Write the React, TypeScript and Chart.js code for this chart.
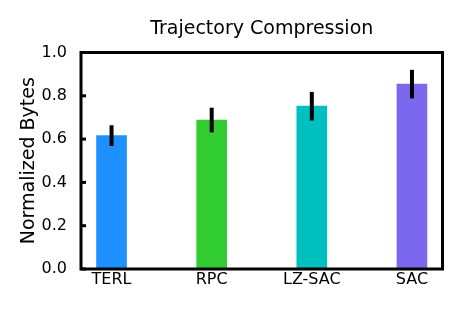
import React, { useEffect, useRef } from "react";
import { Chart, registerables } from "chart.js";

Chart.register(...registerables);

const categories = ["TERL", "RPC", "LZ-SAC", "SAC"];
const values = [0.616, 0.688, 0.752, 0.854];
const errors = [0.048, 0.057, 0.066, 0.066];
const colors = ["#1E90FF", "#32CD32", "#00BFBF", "#7B68EE"];
const yTicks = [0, 0.2, 0.4, 0.6, 0.8, 1.0];

const FONT = "DejaVu Sans";

const decorPlugin = {
  id: "decor",
  afterDatasetsDraw(chart: any) {
    const ctx = chart.ctx;
    const xs = chart.scales.x;
    const ys = chart.scales.y;
    const area = chart.chartArea;
    ctx.save();
    // error bars
    ctx.strokeStyle = "#000";
    ctx.lineWidth = 4;
    values.forEach((v, i) => {
      const x = xs.getPixelForValue(i);
      ctx.beginPath();
      ctx.moveTo(x, ys.getPixelForValue(v - errors[i]));
      ctx.lineTo(x, ys.getPixelForValue(v + errors[i]));
      ctx.stroke();
    });
    // inward y ticks
    ctx.lineWidth = 3;
    yTicks.forEach((t) => {
      const y = ys.getPixelForValue(t);
      ctx.beginPath();
      ctx.moveTo(area.left, y);
      ctx.lineTo(area.left + 5, y);
      ctx.stroke();
    });
    // frame
    ctx.lineWidth = 3;
    ctx.strokeRect(area.left, area.top, area.right - area.left, area.bottom - area.top);
    ctx.restore();
  },
};

export default function App() {
  const ref = useRef<HTMLCanvasElement | null>(null);
  useEffect(() => {
    document.body.style.margin = "0";
    const chart = new Chart(ref.current as HTMLCanvasElement, {
      type: "bar",
      data: {
        datasets: [
          {
            data: values.map((v, i) => ({ x: i, y: v })),
            backgroundColor: colors,
            barThickness: 30,
            borderWidth: 0,
          },
        ],
      },
      options: {
        animation: false,
        responsive: false,
        devicePixelRatio: 1,
        layout: { padding: { left: 0, right: 20.5, top: 0, bottom: 0 } },
        plugins: {
          legend: { display: false },
          tooltip: { enabled: false },
          title: {
            display: true,
            text: "Trajectory Compression",
            fullSize: false,
            color: "#000",
            font: { family: FONT, size: 19, weight: "normal", lineHeight: 1.2 },
            padding: { top: 17.5, bottom: 12.2 },
          },
        },
        scales: {
          x: {
            type: "linear",
            min: -0.305,
            max: 3.305,
            offset: false,
            grid: { display: false },
            border: { display: false },
            afterBuildTicks: (scale: any) => {
              scale.ticks = categories.map((_, i) => ({ value: i }));
            },
            afterFit: (scale: any) => {
              scale.height = 40;
            },
            ticks: {
              autoSkip: false,
              maxRotation: 0,
              padding: -7,
              color: "#000",
              font: { family: FONT, size: 16 },
              callback: (v: any) => categories[Math.round(Number(v))] ?? "",
            },
          },
          y: {
            min: 0,
            max: 1,
            grid: { display: false },
            border: { display: false },
            afterBuildTicks: (scale: any) => {
              scale.ticks = yTicks.map((t) => ({ value: t }));
            },
            afterFit: (scale: any) => {
              scale.width = 81;
            },
            ticks: {
              padding: 6,
              color: "#000",
              font: { family: FONT, size: 16 },
              callback: (v: any) => Number(v).toFixed(1),
            },
            title: {
              display: true,
              text: "Normalized Bytes",
              color: "#000",
              font: { family: FONT, size: 19, lineHeight: 1.2 },
              padding: { top: 17.3, bottom: 0 },
            },
          },
        },
      },
      plugins: [decorPlugin],
    } as any);
    return () => chart.destroy();
  }, []);
  return (
    <canvas ref={ref} width={463} height={309} style={{ display: "block" }} />
  );
}
